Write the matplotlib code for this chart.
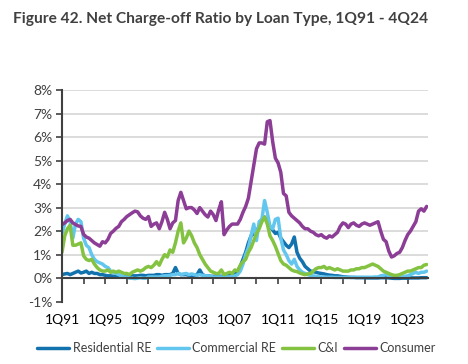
import matplotlib
matplotlib.use("Agg")
import matplotlib.pyplot as plt
import numpy as np

# ── data: quarterly net charge-off ratios (%), 1Q91 - 4Q24 ──────────────────
years = list(range(1991, 2025))
quarters = [f"{q}Q{str(y)[2:]}" for y in years for q in range(1, 5)]

residential_re = [
    0.15, 0.18, 0.20, 0.15,  0.20, 0.25, 0.30, 0.22,  0.25, 0.30, 0.20, 0.25,
    0.20, 0.20, 0.15, 0.15,  0.12, 0.10, 0.10, 0.08,  0.08, 0.06, 0.06, 0.08,
    0.08, 0.10, 0.10, 0.10,  0.10, 0.12, 0.12, 0.10,  0.12, 0.12, 0.12, 0.15,
    0.15, 0.12, 0.15, 0.15,  0.15, 0.20, 0.45, 0.20,  0.15, 0.15, 0.15, 0.12,
    0.12, 0.12, 0.15, 0.35,  0.15, 0.10, 0.10, 0.08,  0.08, 0.08, 0.08, 0.08,
    0.10, 0.10, 0.12, 0.15,  0.20, 0.30, 0.50, 0.80,  1.10, 1.50, 1.80, 1.90,
    2.00, 2.20, 2.50, 2.60,  2.40, 2.20, 2.05, 1.90,  1.95, 1.70, 1.55, 1.40,
    1.30, 1.45, 1.75, 1.10,  0.85, 0.70, 0.50, 0.40,  0.30, 0.28, 0.25, 0.22,
    0.20, 0.18, 0.15, 0.13,  0.12, 0.10, 0.10, 0.08,  0.06, 0.05, 0.04, 0.03,
    0.03, 0.02, 0.02, 0.02,  0.02, 0.01, 0.01, 0.01,  0.01, 0.01, 0.02, 0.02,
    0.02, 0.01, 0.00, -0.01, -0.01, -0.01, 0.00, 0.00,  0.00, 0.01, 0.01, 0.01,
    0.01, 0.02, 0.02, 0.02,
]

commercial_re = [
    1.90, 2.30, 2.65, 2.40,  1.70, 2.30, 2.50, 2.40,  1.70, 1.40, 1.30, 1.00,
    0.80, 0.70, 0.65, 0.60,  0.50, 0.45, 0.30, 0.25,  0.20, 0.15, 0.10, 0.05,
    0.05, 0.00, 0.00, -0.02, 0.00, 0.02, 0.00, 0.00,  0.05, 0.05, 0.05, 0.05,
    0.05, 0.08, 0.10, 0.10,  0.12, 0.15, 0.15, 0.20,  0.15, 0.18, 0.20, 0.15,
    0.18, 0.15, 0.12, 0.15,  0.12, 0.10, 0.10, 0.08,  0.05, 0.05, 0.05, 0.05,
    0.05, 0.05, 0.05, 0.08,  0.10, 0.15, 0.30, 0.60,  1.00, 1.30, 1.80, 2.30,
    1.60, 2.40, 2.50, 3.30,  2.80, 2.20, 2.10, 2.50,  2.55, 1.70, 1.20, 1.00,
    0.75, 0.60, 0.80, 0.50,  0.35, 0.25, 0.20, 0.15,  0.12, 0.10, 0.08, 0.06,
    0.05, 0.05, 0.04, 0.04,  0.04, 0.03, 0.03, 0.03,  0.03, 0.03, 0.03, 0.04,
    0.04, 0.04, 0.04, 0.04,  0.04, 0.04, 0.04, 0.04,  0.05, 0.05, 0.10, 0.12,
    0.15, 0.10, 0.08, 0.05,  0.05, 0.05, 0.05, 0.08,  0.10, 0.15, 0.20, 0.25,
    0.20, 0.25, 0.25, 0.30,
]

c_and_i = [
    1.10, 1.80, 2.10, 2.25,  1.40, 1.40, 1.45, 1.50,  0.95, 0.80, 0.75, 0.80,
    0.60, 0.45, 0.35, 0.30,  0.30, 0.35, 0.25, 0.30,  0.25, 0.30, 0.25, 0.20,
    0.20, 0.15, 0.25, 0.30,  0.35, 0.30, 0.35, 0.45,  0.50, 0.45, 0.55, 0.70,
    0.55, 0.80, 1.00, 0.90,  1.20, 1.10, 1.50, 2.00,  2.35, 1.50, 1.70, 2.00,
    1.80, 1.50, 1.30, 1.00,  0.80, 0.60, 0.45, 0.30,  0.25, 0.20, 0.20, 0.35,
    0.15, 0.20, 0.25, 0.20,  0.35, 0.30, 0.55, 0.70,  0.80, 1.10, 1.30, 1.60,
    1.90, 2.10, 2.40, 2.60,  2.30, 1.80, 1.60, 1.35,  1.05, 0.75, 0.60, 0.55,
    0.45, 0.35, 0.30, 0.28,  0.22, 0.18, 0.15, 0.18,  0.20, 0.30, 0.40, 0.45,
    0.45, 0.50, 0.40, 0.45,  0.40, 0.35, 0.40, 0.35,  0.30, 0.30, 0.30, 0.35,
    0.35, 0.40, 0.40, 0.45,  0.45, 0.50, 0.55, 0.60,  0.55, 0.50, 0.40, 0.30,
    0.25, 0.20, 0.15, 0.12,  0.12, 0.15, 0.20, 0.25,  0.30, 0.30, 0.35, 0.40,
    0.45, 0.45, 0.55, 0.58,
]

consumer = [
    2.28, 2.35, 2.45, 2.50,  2.35, 2.28, 2.22, 2.20,  1.86, 1.75, 1.70, 1.60,
    1.50, 1.43, 1.36, 1.55,  1.50, 1.65, 1.90, 2.00,  2.12, 2.20, 2.40, 2.50,
    2.62, 2.70, 2.78, 2.85,  2.82, 2.65, 2.55, 2.50,  2.62, 2.20, 2.30, 2.35,
    2.10, 2.40, 2.80, 2.50,  2.10, 2.35, 2.45, 3.30,  3.65, 3.30, 2.95, 3.00,
    3.00, 2.90, 2.75, 3.00,  2.85, 2.70, 2.60, 2.85,  2.70, 2.45, 2.90, 3.25,
    1.85, 2.05, 2.20, 2.30,  2.30, 2.30, 2.50, 2.80,  3.05, 3.40, 4.10, 4.80,
    5.50, 5.75, 5.75, 5.70,  6.65, 6.70, 5.80, 5.10,  4.90, 4.50, 3.60, 3.50,
    2.80, 2.65, 2.55, 2.45,  2.35, 2.20, 2.10, 2.10,  2.00, 1.95, 1.85, 1.80,
    1.85, 1.75, 1.70, 1.80,  1.75, 1.85, 1.95, 2.20,  2.35, 2.30, 2.15, 2.30,
    2.35, 2.25, 2.20, 2.30,  2.35, 2.30, 2.25, 2.30,  2.35, 2.40, 2.00, 1.65,
    1.55, 1.15, 0.90, 0.95,  1.05, 1.10, 1.30, 1.60,  1.85, 2.00, 2.20, 2.40,
    2.85, 2.95, 2.85, 3.05,
]

series = [
    ("Residential RE", residential_re, "#1272ae"),
    ("Commercial RE", commercial_re, "#62c6ee"),
    ("C&I", c_and_i, "#84c342"),
    ("Consumer", consumer, "#8c3d96"),
]

plt.rcParams["font.family"] = ["Lato", "DejaVu Sans"]
TXT = "#404040"

fig = plt.figure(figsize=(4.68, 3.64), dpi=100)
ax = fig.add_axes([0.1325, 0.1712, 0.782, 0.5815])

x = np.arange(len(quarters))
for name, vals, col in series:
    ax.plot(x, vals, color=col, lw=2.5, label=name, solid_capstyle="round")

ax.set_ylim(-1, 8)
ax.set_xlim(0, 135.5)
ax.set_yticks(range(-1, 9))
ax.set_yticklabels([f"{v}%" for v in range(-1, 9)], color=TXT, fontsize=10)
for v in range(1, 9):
    ax.axhline(v, color="#d9d9d9", lw=1.3, zorder=0)

xt = list(range(0, len(quarters), 8))
ax.set_xticks(xt)
ax.set_xticklabels([quarters[i] if i % 16 == 0 else "" for i in xt],
                   color=TXT, fontsize=10)
ax.tick_params(axis="x", length=4, width=1.2, color="#404040", pad=22)
ax.tick_params(axis="y", length=4, width=1.2, color="#404040", pad=3)

ax.spines[["top", "right"]].set_visible(False)
ax.spines["bottom"].set_position(("data", 0))
for s in ("left", "bottom"):
    ax.spines[s].set_color("#404040")
    ax.spines[s].set_linewidth(1.5)

fig.text(0.028, 0.937, "Figure 42. Net Charge-off Ratio by Loan Type, 1Q91 - 4Q24",
         fontsize=11.2, fontweight="bold", color=TXT, va="baseline")

fig.legend(loc="center", bbox_to_anchor=(0.505, 0.044), ncol=4, frameon=False,
           fontsize=9.0, handlelength=2.6, handletextpad=0.25, columnspacing=0.45,
           labelcolor=TXT)

fig.savefig("out.png", dpi=100)
